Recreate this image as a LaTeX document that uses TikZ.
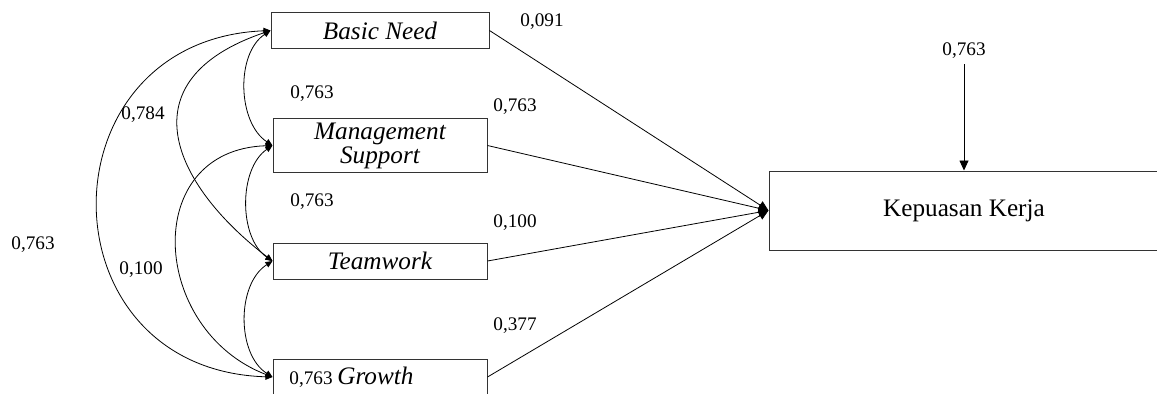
\documentclass[tikz,border=0pt]{standalone}
\usepackage{fontspec}
\setmainfont{Liberation Serif}
\usetikzlibrary{arrows.meta}
\tikzset{
  varbox/.style={draw=black!80, line width=0.5pt, minimum width=107pt, minimum height=18pt, inner sep=0pt, font=\fontsize{12.6}{11}\selectfont\itshape},
  coef/.style={font=\fontsize{9.6}{11}\selectfont, inner sep=0pt},
  effect/.style={line width=0.4pt, -{Triangle[length=5pt,width=4.5pt]}},
  cov/.style={line width=0.4pt, {Triangle[length=3.5pt,width=3pt]}-{Triangle[length=3.5pt,width=3pt]}},
}
\begin{document}
\begin{tikzpicture}[x=0.5pt,y=-0.5pt]
		\clip (0,0) rectangle (1157,393);
		% variables
		\node[varbox, minimum width=109pt, minimum height=17.8pt] (bn) at (380,30.5) {Basic Need};
		\node[varbox, minimum height=27.3pt, align=center] (ms) at (380,145.5) {Management\\Support};
		\node[varbox] (tw) at (380,261) {Teamwork};
		\node[varbox] (gr) at (380,377) {};
		\node[coef, anchor=west] (grtxt) at (289,377) {0,763 {\fontsize{12.6}{11}\selectfont\itshape Growth}};
		\node[draw=black!80, line width=0.5pt, minimum width=195pt, minimum height=39.5pt, font=\fontsize{12.6}{14}\selectfont] (kk) at (964,210.5) {Kepuasan Kerja};
		% error term
		\node[coef] (kkerr) at (964,51) {0,763};
		\coordinate (errtop) at (964,64);
		\draw[effect] (errtop) -- (kk.north);
		% direct effects
		\foreach \v in {bn,ms,tw,gr}
			\draw[effect] (\v.east) -- (kk.west);
		% covariances
		\draw[cov] (bn.west) .. controls +(-35,23) and +(-35,-23) .. (ms.west);
		\draw[cov] (ms.west) .. controls +(-34,23) and +(-34,-23) .. (tw.west);
		\draw[cov] (tw.west) .. controls +(-36,23) and +(-36,-23) .. (gr.west);
		\draw[cov] (bn.west) .. controls +(-145.5,49.5) and +(-100.5,-77) .. (tw.west);
		\draw[cov] (ms.west) .. controls +(-132.5,4.5) and +(-122.5,-47) .. (gr.west);
		\draw[cov] (bn.west) .. controls +(-230.5,9.5) and +(-232.5,-7) .. (gr.west);
		% coefficients
		\node[coef] (c1) at (542,22) {0,091};
		\node[coef] (c2) at (515,107) {0,763};
		\node[coef] (c3) at (515,223) {0,100};
		\node[coef] (c4) at (515,326) {0,377};
		\node[coef] (r1) at (312,94) {0,763};
		\node[coef] (r2) at (312,202) {0,763};
		\node[coef] (r3) at (143,115) {0,784};
		\node[coef] (r4) at (141,270) {0,100};
		\node[coef] (r5) at (33,245) {0,763};
\end{tikzpicture}
\end{document}
